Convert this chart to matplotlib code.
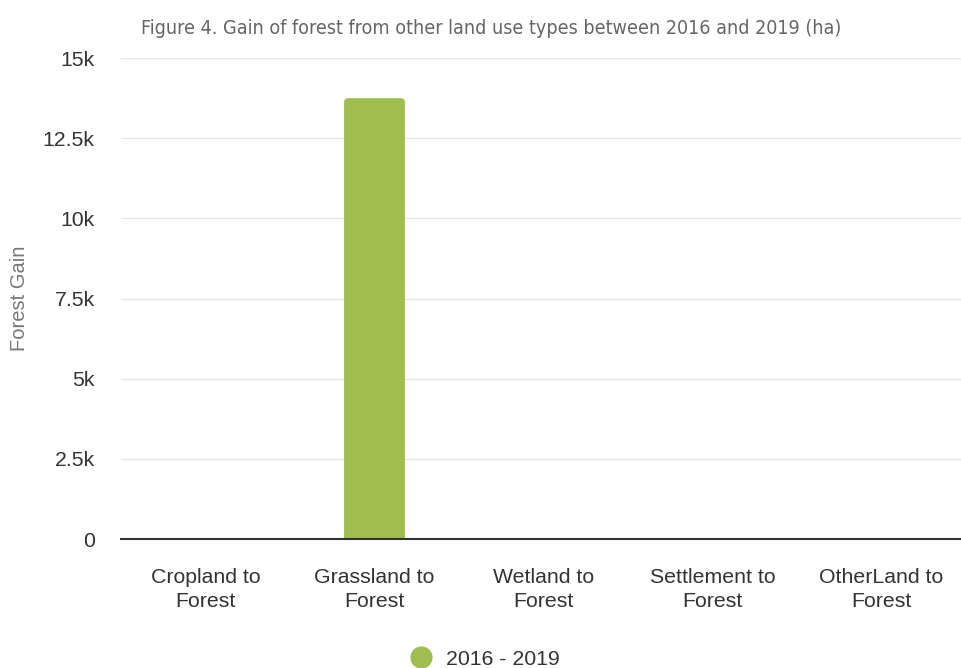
import matplotlib.pyplot as plt
from matplotlib import font_manager
from matplotlib.patches import FancyBboxPatch

# land use transitions into forest, 2016-2019 (ha)
categories = ["Cropland to\nForest", "Grassland to\nForest", "Wetland to\nForest",
              "Settlement to\nForest", "OtherLand to\nForest"]
gain = [0, 13750, 0, 0, 0]
yticks = [0, 2500, 5000, 7500, 10000, 12500, 15000]
ytick_labels = ["0", "2.5k", "5k", "7.5k", "10k", "12.5k", "15k"]
series_name = "2016 - 2019"

# narrowest face available for the heading
rank = {"ultra-condensed": 0, "extra-condensed": 1, "condensed": 2, "semi-condensed": 3}
narrow = sorted((f for f in font_manager.fontManager.ttflist
                 if f.stretch in rank and f.weight in (400, "normal", "regular")),
                key=lambda f: rank[f.stretch])
if narrow:
    title_kw = {"family": narrow[0].name, "fontstretch": narrow[0].stretch}
else:
    title_kw = {"family": "Liberation Sans"}

plt.rcParams['font.family'] = ['Liberation Sans', 'DejaVu Sans']

green = "#9fbe4f"
title = "Figure 4. Gain of forest from other land use types between 2016 and 2019 (ha)"

fig = plt.figure(figsize=(9.61, 6.68), dpi=100)
ax = fig.add_axes([0.126, 0.193, 0.879, 0.720])

# bars with slightly rounded tops
w = 0.36
rx = 0.025
ry = 125
for i, v in enumerate(gain):
    if v <= 0:
        continue
    ax.add_patch(FancyBboxPatch((i - w / 2, -ry), w, v + ry,
                                boxstyle=f"round,pad=0,rounding_size={rx}",
                                mutation_aspect=ry / rx,
                                facecolor=green, edgecolor="none", zorder=3))

ax.set_xlim(-0.5, len(categories) - 0.5)
ax.set_ylim(0, 15000)
ax.set_yticks(yticks)
ax.set_yticklabels(ytick_labels)
ax.set_xticks(range(len(categories)))
ax.set_xticklabels(categories, linespacing=1.3)

ax.grid(axis="y", color="#e6e6e6", linewidth=1, zorder=0)
for s in ["top", "right", "left"]:
    ax.spines[s].set_visible(False)
ax.spines["bottom"].set_color("#333333")
ax.spines["bottom"].set_linewidth(1.5)
ax.spines["bottom"].set_zorder(4)
ax.tick_params(axis="y", length=0, pad=19, labelsize=15.3, labelcolor="#333333")
ax.tick_params(axis="x", length=0, pad=21, labelsize=15.3, labelcolor="#333333")

ax.set_ylabel("Forest Gain", fontsize=14.5, color="#777777")
ax.yaxis.set_label_coords(-0.109, 0.5)

# heading: scale font so it spans the same width whatever face was found
t = fig.text(0.5, 0.957, title, ha="center", va="center", color="#666666",
             fontsize=19, **title_kw)
fig.canvas.draw()
tw = t.get_window_extent().width
t.set_fontsize(min(19, 19 * 697 / tw))
t.set_x((143 + 840) / 2 / 961)

fig.legend(handles=[plt.Line2D([], [], marker="o", linestyle="", markersize=15,
                               markerfacecolor=green, markeredgecolor=green)],
           labels=[series_name], loc="center", bbox_to_anchor=(0.499, 0.013),
           frameon=False, fontsize=15.3, handletextpad=0.2, labelcolor="#333333")

fig.savefig("out.png", dpi=100)
